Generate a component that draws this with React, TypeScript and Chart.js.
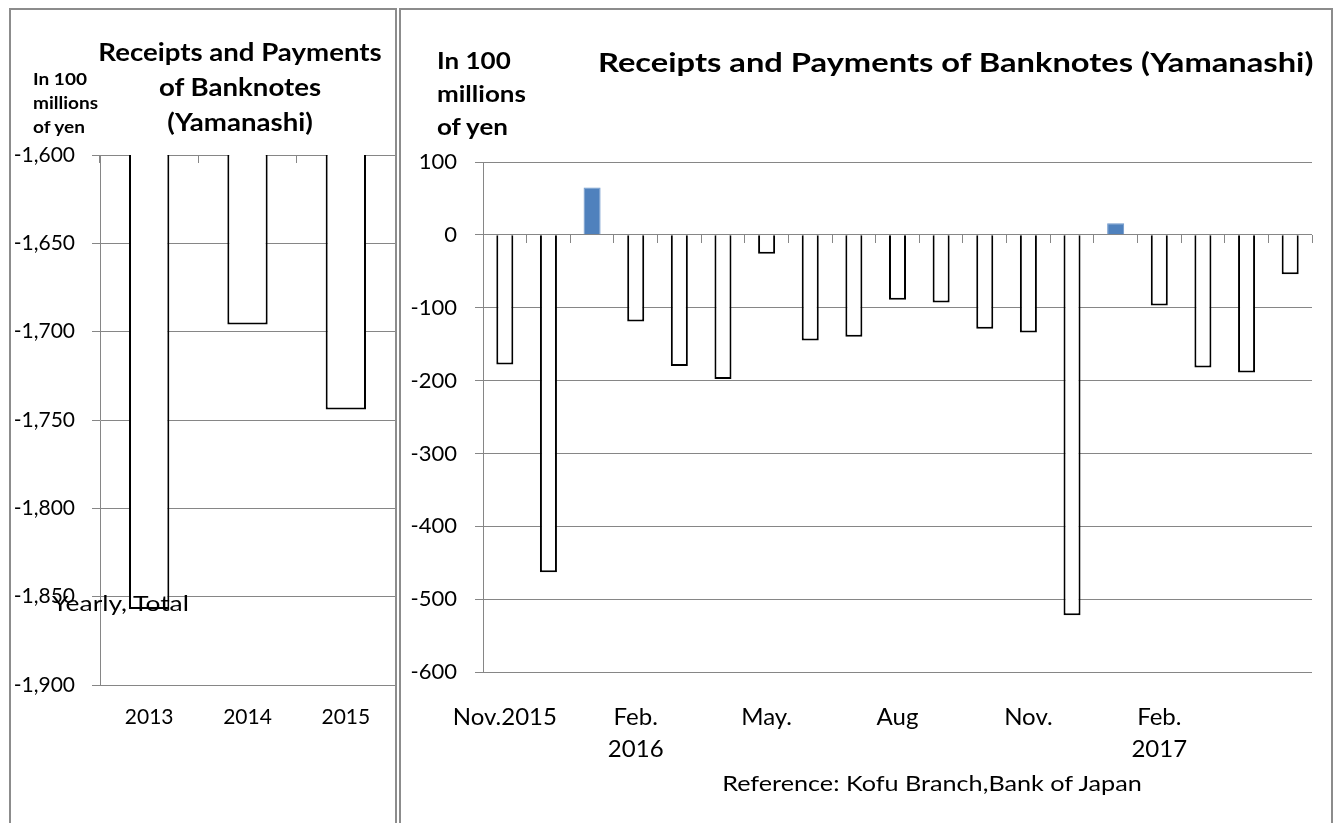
import React, { useEffect, useRef } from 'react';
import { Chart, registerables } from 'chart.js';

Chart.register(...registerables);

// ---------- data ----------
const yearlyLabels: string[] = ['2013', '2014', '2015'];
const yearlyValues: number[] = [-1857, -1696, -1744];
const yearlyMin = -1900;
const yearlyMax = -1600;
const yearlyStep = 50;

const monthlyLabels: (string | string[])[] = [
  'Nov.2015', '', '', ['Feb.', '2016'], '', '', 'May.', '', '', 'Aug', '', '', 'Nov.', '', '', ['Feb.', '2017'], '', '', '',
];
const monthlyValues: number[] = [
  -178, -463, 65, -119, -180, -198, -26, -145, -140, -89, -93, -129, -134, -522, 16, -97, -182, -189, -54,
];
const monthlyMin = -600;
const monthlyMax = 100;
const monthlyStep = 100;

// ---------- styles ----------
const GRID = '#868686';
const BLUE = '#4F81BD';
const BLUE_EDGE = '#6E97CB';
const FONT = 'Lato, "Open Sans", sans-serif';

const fillFor = (vals: number[]) => vals.map((v) => (v >= 0 ? BLUE : '#FFFFFF'));
const strokeFor = (vals: number[]) => vals.map((v) => (v >= 0 ? BLUE_EDGE : '#000000'));
const widthFor = (vals: number[]) => vals.map((v) => (v >= 0 ? 1 : 2));

function Txt(props: {
  left: number;
  top: number;
  width?: number;
  size: number;
  lh: number;
  bold?: boolean;
  align?: 'left' | 'center';
  sx?: number;
  children: React.ReactNode;
}) {
  const { left, top, width, size, lh, bold, align, sx, children } = props;
  return (
    <div
      style={{
        position: 'absolute',
        left,
        top,
        width,
        fontFamily: FONT,
        fontSize: size,
        lineHeight: lh + 'px',
        fontWeight: bold ? 700 : 400,
        textAlign: align || 'left',
        whiteSpace: 'nowrap',
        color: '#000',
        transform: sx ? `scaleX(${sx})` : undefined,
        transformOrigin: align === 'center' ? 'center top' : 'left top',
      }}
    >
      {children}
    </div>
  );
}

export default function App() {
  const leftRef = useRef<HTMLCanvasElement>(null);
  const rightRef = useRef<HTMLCanvasElement>(null);

  useEffect(() => {
    const left = new Chart(leftRef.current as HTMLCanvasElement, {
      type: 'bar',
      data: {
        labels: yearlyLabels,
        datasets: [
          {
            data: yearlyValues,
            backgroundColor: fillFor(yearlyValues),
            borderColor: strokeFor(yearlyValues),
            borderWidth: widthFor(yearlyValues),
            barPercentage: 0.41,
            categoryPercentage: 1,
          },
        ],
      },
      options: {
        responsive: false,
        animation: false,
        events: [],
        layout: { padding: { top: 145, left: 0, right: 0, bottom: 0 } },
        plugins: { legend: { display: false }, tooltip: { enabled: false }, title: { display: false } },
        scales: {
          x: {
            type: 'category',
            offset: true,
            grid: { display: false, drawTicks: false },
            border: { display: false },
            ticks: { color: '#000', font: { family: FONT, size: 21 }, padding: 20, maxRotation: 0, autoSkip: false },
            afterFit: (s: any) => {
              s.height = 138;
            },
          },
          xTicks: {
            type: 'category',
            position: { y: yearlyMax },
            offset: true,
            grid: { offset: true, drawOnChartArea: false, drawTicks: true, tickLength: 8, color: GRID, lineWidth: 1 },
            border: { display: false },
            ticks: { display: false },
          },
          y: {
            min: yearlyMin,
            max: yearlyMax,
            ticks: {
              stepSize: yearlyStep,
              color: '#000',
              font: { family: FONT, size: 21 },
              padding: 17,
              callback: (v: any) => Number(v).toLocaleString('en-US'),
            },
            grid: { color: GRID, tickLength: 8, lineWidth: 1 },
            border: { color: GRID, width: 1 },
            afterFit: (s: any) => {
              s.width = 89;
            },
          },
        },
      } as any,
    });

    const right = new Chart(rightRef.current as HTMLCanvasElement, {
      type: 'bar',
      data: {
        labels: monthlyLabels,
        datasets: [
          {
            data: monthlyValues,
            backgroundColor: fillFor(monthlyValues),
            borderColor: strokeFor(monthlyValues),
            borderWidth: widthFor(monthlyValues),
            barPercentage: 0.39,
            categoryPercentage: 1,
          },
        ],
      },
      options: {
        responsive: false,
        animation: false,
        events: [],
        layout: { padding: { top: 152, left: 0, right: 19, bottom: 0 } },
        plugins: { legend: { display: false }, tooltip: { enabled: false }, title: { display: false } },
        scales: {
          x: {
            type: 'category',
            offset: true,
            grid: { display: false, drawTicks: false },
            border: { display: false },
            ticks: {
              color: '#000',
              font: { family: FONT, size: 24, lineHeight: 1.35 },
              padding: 29,
              maxRotation: 0,
              minRotation: 0,
              autoSkip: false,
            },
            afterFit: (s: any) => {
              s.height = 151;
            },
          },
          xTicks: {
            type: 'category',
            position: { y: 0 },
            offset: true,
            grid: { offset: true, drawOnChartArea: false, drawTicks: true, tickLength: 8, color: GRID, lineWidth: 1 },
            border: { display: false },
            ticks: { display: false },
          },
          y: {
            min: monthlyMin,
            max: monthlyMax,
            ticks: {
              stepSize: monthlyStep,
              color: '#000',
              font: { family: FONT, size: 22 },
              padding: 18,
            },
            grid: { color: GRID, tickLength: 8, lineWidth: 1 },
            border: { color: GRID, width: 1 },
            afterFit: (s: any) => {
              s.width = 82;
            },
          },
        },
      } as any,
    });

    return () => {
      left.destroy();
      right.destroy();
    };
  }, []);

  return (
    <div style={{ position: 'absolute', left: 0, top: 0, width: 1335, height: 823, overflow: 'hidden', background: '#fff' }}>
      {/* left panel */}
      <div
        style={{
          position: 'absolute',
          left: 9,
          top: 8,
          width: 388,
          height: 830,
          boxSizing: 'border-box',
          border: '2px solid #8c8c8c',
        }}
      >
        <canvas ref={leftRef} width={384} height={813} style={{ position: 'absolute', left: 0, top: 0, width: 384, height: 813 }} />
      </div>
      {/* right panel */}
      <div
        style={{
          position: 'absolute',
          left: 399,
          top: 8,
          width: 934,
          height: 830,
          boxSizing: 'border-box',
          border: '2px solid #8c8c8c',
        }}
      >
        <canvas ref={rightRef} width={930} height={813} style={{ position: 'absolute', left: 0, top: 0, width: 930, height: 813 }} />
      </div>

      {/* left texts */}
      <Txt left={40} top={34} width={400} size={24} lh={35} bold align="center" sx={1.15}>
        Receipts and Payments
        <br />
        of Banknotes
        <br />
        (Yamanashi)
      </Txt>
      <Txt left={33} top={67} size={17} lh={24} bold sx={1.12}>
        In 100
        <br />
        millions
        <br />
        of yen
      </Txt>
      <Txt left={52} top={590} size={22} lh={26} sx={1.2}>
        Yearly, Total
      </Txt>

      {/* right texts */}
      <Txt left={437} top={44} size={23} lh={33} bold sx={1.13}>
        In 100
        <br />
        millions
        <br />
        of yen
      </Txt>
      <Txt left={598} top={44} size={27} lh={36} bold sx={1.21}>
        Receipts and Payments of Banknotes (Yamanashi)
      </Txt>
      <Txt left={632} top={770} width={600} size={21} lh={26} align="center" sx={1.2}>
        Reference: Kofu Branch,Bank of Japan
      </Txt>
    </div>
  );
}
